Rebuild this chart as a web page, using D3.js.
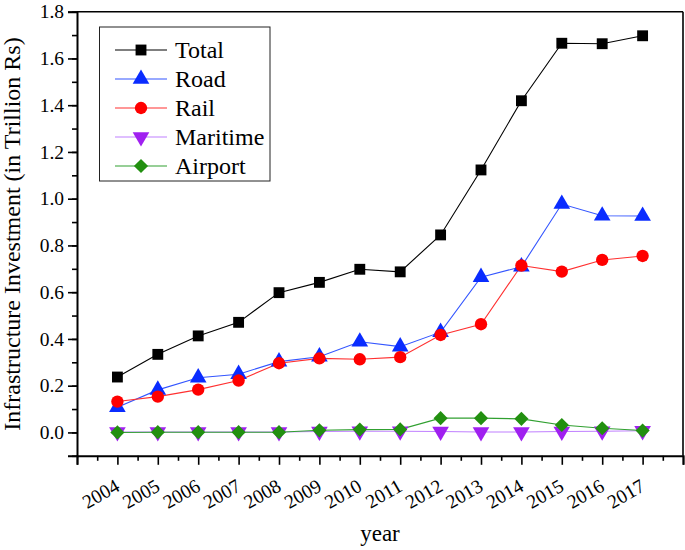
<!DOCTYPE html>
<html><head><meta charset="utf-8">
<script src="https://cdn.jsdelivr.net/npm/d3@7"></script>
<style>body{margin:0;background:#fff}svg{display:block}</style>
</head><body>
<svg id="c" width="685" height="550"></svg>
<script>
const years = [2004,2005,2006,2007,2008,2009,2010,2011,2012,2013,2014,2015,2016,2017];
const total    = [0.237,0.334,0.413,0.471,0.598,0.642,0.698,0.687,0.845,1.123,1.419,1.665,1.663,1.697];
const road     = [0.108,0.182,0.234,0.249,0.303,0.324,0.388,0.367,0.429,0.664,0.709,0.977,0.927,0.926];
const rail     = [0.132,0.153,0.183,0.222,0.296,0.317,0.313,0.322,0.417,0.463,0.714,0.688,0.738,0.755];
const maritime = [0.002,0.002,0.002,0.002,0.002,0.004,0.005,0.005,0.004,0.002,0.002,0.004,0.005,0.007];
const airport  = [0.000,0.001,0.001,0.001,0.001,0.009,0.012,0.013,0.061,0.061,0.058,0.032,0.018,0.008];
const seriesNames = ["Total","Road","Rail","Maritime","Airport"];
const yTicks = [0.0,0.2,0.4,0.6,0.8,1.0,1.2,1.4,1.6,1.8];

const styles = {
  Total:   {line:"#000000", fill:"#000000", sym:d3.symbolSquare, size:118},
  Road:    {line:"#3355ff", fill:"#0a2cff", sym:d3.symbolTriangle, size:120},
  Rail:    {line:"#ff3030", fill:"#ff0000", sym:d3.symbolCircle, size:120},
  Maritime:{line:"#c080ff", fill:"#a020f0", sym:d3.symbolTriangle, size:120, rot:180},
  Airport: {line:"#30a030", fill:"#229010", sym:d3.symbolSquare, size:100, rot:45}
};
const data = {Total:total, Road:road, Rail:rail, Maritime:maritime, Airport:airport};

const svg = d3.select("#c");
const L=77, R=683, T=11.7, B=455.8;
const x = d3.scaleLinear().domain([2003,2018]).range([L,R]);
const y = d3.scaleLinear().domain([-0.1,1.8]).range([B,T]);
const font = "'Liberation Serif','Times New Roman',serif";

// frame top & right
svg.append("line").attr("x1",L).attr("x2",R).attr("y1",T).attr("y2",T).attr("stroke","#000").attr("stroke-width",1.6);
svg.append("line").attr("x1",R).attr("x2",R).attr("y1",T).attr("y2",B).attr("stroke","#000").attr("stroke-width",1.6);

// y axis
const yMinor = d3.range(-0.1,1.81,0.1).map(v=>+v.toFixed(2));
const ya = svg.append("g").attr("transform",`translate(${L},0)`);
ya.call(d3.axisLeft(y).tickValues(yMinor).tickSize(5).tickFormat(""));
ya.select(".domain").remove();
const yb = svg.append("g").attr("transform",`translate(${L},0)`);
yb.call(d3.axisLeft(y).tickValues(yTicks).tickSize(9).tickPadding(4).tickFormat(d3.format(".1f")));
yb.select(".domain").attr("stroke-width",2);
yb.selectAll("text").attr("font-family",font).attr("font-size",19.5).attr("fill","#000");

// x axis
const xa = svg.append("g").attr("transform",`translate(0,${B})`);
xa.call(d3.axisBottom(x).tickValues(d3.range(2003.5,2018,1)).tickSize(5).tickFormat(""));
xa.select(".domain").remove();
const xb = svg.append("g").attr("transform",`translate(0,${B})`);
xb.call(d3.axisBottom(x).tickValues(d3.range(2003,2019,1)).tickSize(9).tickFormat(d=> years.includes(d)? String(d):""));
xb.select(".domain").attr("stroke-width",2);
svg.selectAll("g .tick line").attr("stroke-width",1.6);
xb.selectAll("text").attr("font-family",font).attr("font-size",19.5).attr("fill","#000")
  .attr("text-anchor","end").attr("dy",null).attr("y",0)
  .attr("transform","translate(3,34) rotate(-30)");

// lines & markers
const line = d3.line().x((d,i)=>x(years[i])).y(d=>y(d));
seriesNames.forEach(n=>{
  svg.append("path").datum(data[n]).attr("d",line).attr("fill","none")
    .attr("stroke",styles[n].line).attr("stroke-width",1.1);
});
seriesNames.forEach(n=>{
  const s=styles[n];
  const sym=d3.symbol().type(s.sym).size(s.size);
  svg.append("g").selectAll("path").data(data[n]).join("path")
    .attr("d",sym)
    .attr("transform",(d,i)=>`translate(${x(years[i])},${y(d)})${s.rot?` rotate(${s.rot})`:""}`)
    .attr("fill",s.fill);
});

// legend
const lg = svg.append("g");
lg.append("rect").attr("x",99.5).attr("y",27).attr("width",170.5).attr("height",154)
  .attr("fill","#fff").attr("stroke","#222").attr("stroke-width",1);
seriesNames.forEach((n,i)=>{
  const s=styles[n], yy=50+i*29;
  lg.append("line").attr("x1",115).attr("x2",167).attr("y1",yy).attr("y2",yy).attr("stroke",s.line).attr("stroke-width",1.1);
  lg.append("path").attr("d",d3.symbol().type(s.sym).size(s.size)()).attr("fill",s.fill)
    .attr("transform",`translate(141,${yy})${s.rot?` rotate(${s.rot})`:""}`);
  lg.append("text").attr("x",175).attr("y",yy+8).text(n).attr("font-family",font).attr("font-size",24).attr("fill","#000");
});

// axis titles
svg.append("text").attr("transform","translate(20,234) rotate(-90)").attr("text-anchor","middle")
  .attr("font-family",font).attr("font-size",24).attr("fill","#000").text("Infrastructure Investment (in Trillion Rs)");
svg.append("text").attr("x",380).attr("y",541).attr("text-anchor","middle")
  .attr("font-family",font).attr("font-size",23).attr("fill","#000").text("year");
</script>
</body></html>
